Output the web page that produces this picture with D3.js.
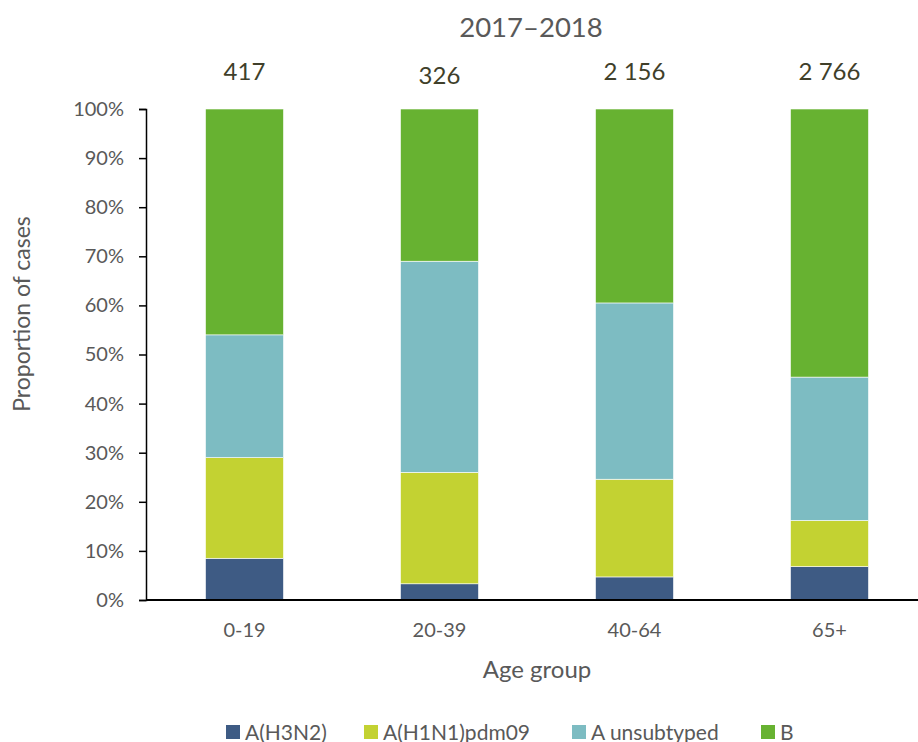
<!DOCTYPE html>
<html>
<head>
<meta charset="utf-8">
<script src="https://cdn.jsdelivr.net/npm/d3@7"></script>
<style>
  body { margin: 0; background: #fff; }
  svg text { font-family: Lato, "Open Sans", sans-serif; fill: #595959; }
</style>
</head>
<body>
<svg id="chart" width="918" height="742"></svg>
<script>
// data (percent of cases)
const ageGroups = ["0-19", "20-39", "40-64", "65+"];
const totals = ["417", "326", "2 156", "2 766"];
const seriesNames = ["A(H3N2)", "A(H1N1)pdm09", "A unsubtyped", "B"];
const h3n2 = [8.5, 3.3, 4.7, 6.8];
const h1n1 = [20.5, 22.7, 19.9, 9.4];
const unsubtyped = [25.0, 43.0, 35.9, 29.2];
const typeB = [46.0, 31.0, 39.5, 54.6];
const colors = ["#3e5b84", "#c3d232", "#7dbcc2", "#67b231"];
const yTicks = [0, 10, 20, 30, 40, 50, 60, 70, 80, 90, 100];

const svg = d3.select("#chart");

let rows = ageGroups.map((g, i) => ({
    group: g,
    "A(H3N2)": h3n2[i],
    "A(H1N1)pdm09": h1n1[i],
    "A unsubtyped": unsubtyped[i],
    "B": typeB[i]
}));

let stack = d3.stack().keys(seriesNames);
let layers = stack(rows);

let x = d3.scaleBand()
    .domain(ageGroups)
    .range([147, 927])
    .paddingInner(0.6)
    .paddingOuter(0.3);
let y = d3.scaleLinear()
    .domain([0, 100])
    .range([600, 109]);
let color = d3.scaleOrdinal().domain(seriesNames).range(colors);

// bars
svg.append("g")
    .selectAll("g")
    .data(layers)
    .join("g")
    .attr("fill", d => color(d.key))
    .selectAll("rect")
    .data(d => d)
    .join("rect")
    .attr("x", d => x(d.data.group))
    .attr("width", x.bandwidth())
    .attr("y", d => y(d[1]))
    .attr("height", d => y(d[0]) - y(d[1]))
    .attr("stroke", "#ffffff")
    .attr("stroke-width", 0.6);

// y axis
let yAxis = svg.append("g")
    .attr("transform", "translate(146,0)")
    .call(d3.axisLeft(y).tickValues(yTicks).tickSize(7).tickPadding(15).tickFormat(d => d + "%"));
yAxis.select(".domain").attr("stroke", "#000").attr("stroke-width", 1.5);
yAxis.selectAll(".tick line").attr("stroke", "#000").attr("stroke-width", 1.5);
yAxis.selectAll("text").attr("font-size", 20).attr("fill", "#595959");

// x axis
let xAxis = svg.append("g")
    .attr("transform", "translate(0,600)")
    .call(d3.axisBottom(x).tickSize(0).tickPadding(23));
xAxis.select(".domain").attr("d", "M146,0H918").attr("stroke", "#000").attr("stroke-width", 2);
xAxis.selectAll("text").attr("font-size", 20).attr("fill", "#595959");

// totals above bars
svg.append("g")
    .selectAll("text")
    .data(ageGroups)
    .join("text")
    .attr("x", d => x(d) + x.bandwidth() / 2)
    .attr("y", (d, i) => i === 1 ? 84 : 80)
    .attr("text-anchor", "middle")
    .attr("font-size", 24)
    .style("fill", "#403f2a")
    .text((d, i) => totals[i]);

// title
svg.append("text")
    .attr("x", 531)
    .attr("y", 37)
    .attr("text-anchor", "middle")
    .attr("font-size", 27.5)
    .text("2017\u20132018");

// axis titles
svg.append("text")
    .attr("transform", "translate(30,314) rotate(-90)")
    .attr("text-anchor", "middle")
    .attr("font-size", 23)
    .text("Proportion of cases");
svg.append("text")
    .attr("x", 537)
    .attr("y", 678)
    .attr("text-anchor", "middle")
    .attr("font-size", 24)
    .text("Age group");

// legend
let legendX = [226, 364, 572, 761];
let legend = svg.append("g")
    .selectAll("g")
    .data(seriesNames)
    .join("g")
    .attr("transform", (d, i) => "translate(" + legendX[i] + ",725)");
legend.append("rect")
    .attr("width", 14)
    .attr("height", 14)
    .attr("fill", d => color(d));
legend.append("text")
    .attr("x", 19)
    .attr("y", 14.5)
    .attr("font-size", 21)
    .text(d => d);
</script>
</body>
</html>
